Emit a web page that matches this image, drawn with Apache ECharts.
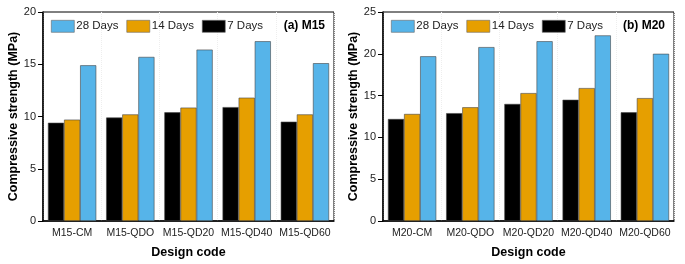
<!DOCTYPE html>
<html>
<head>
<meta charset="utf-8">
<script src="https://cdn.jsdelivr.net/npm/echarts@6/dist/echarts.min.js"></script>
<style>
    html, body { margin: 0; padding: 0; background: #fff; }
    #chart { width: 685px; height: 264px; }
</style>
</head>
<body>
<div id="chart"></div>
<script>
    // 类别
    const m15Codes = ['M15-CM', 'M15-QDO', 'M15-QD20', 'M15-QD40', 'M15-QD60']
    const m20Codes = ['M20-CM', 'M20-QDO', 'M20-QD20', 'M20-QD40', 'M20-QD60']
    const seriesNames = ['7 Days', '14 Days', '28 Days']
    const legendOrder = ['28 Days', '14 Days', '7 Days']

    // M15 强度
    const m15Day7 = [9.4, 9.9, 10.4, 10.9, 9.5]
    const m15Day14 = [9.7, 10.2, 10.85, 11.8, 10.2]
    const m15Day28 = [14.9, 15.7, 16.4, 17.2, 15.1]

    // M20 强度
    const m20Day7 = [12.2, 12.9, 14.0, 14.5, 13.0]
    const m20Day14 = [12.8, 13.6, 15.3, 15.9, 14.7]
    const m20Day28 = [19.7, 20.8, 21.5, 22.2, 20.0]

    const colors = ['#000000', '#E69F00', '#56B4E9']
    const font = 'Liberation Sans, Arial, sans-serif'

    function xAxisOf (idx, codes) {
        return {
            type: 'category',
            gridIndex: idx,
            data: codes,
            name: 'Design code',
            nameLocation: 'middle',
            nameGap: 25,
            nameTextStyle: { fontFamily: font, fontSize: 12.5, fontWeight: 'bold', color: '#000' },
            axisLine: { lineStyle: { color: '#000', width: 1.5 } },
            axisTick: { length: 4, lineStyle: { color: '#000' } },
            axisLabel: { fontFamily: font, fontSize: 10.5, color: '#222', margin: 7, interval: 0, hideOverlap: false },
            splitLine: { show: true, lineStyle: { color: '#eee', type: 'dotted' } }
        }
    }

    function yAxisOf (idx, max) {
        return {
            type: 'value',
            gridIndex: idx,
            min: 0,
            max: max,
            interval: 5,
            name: 'Compressive strength (MPa)',
            nameLocation: 'middle',
            nameGap: 21,
            nameTextStyle: { fontFamily: font, fontSize: 12.5, fontWeight: 'bold', color: '#000' },
            axisLine: { show: true, lineStyle: { color: '#000', width: 1.5 } },
            axisTick: { show: true, inside: false, length: 5, lineStyle: { color: '#000' } },
            axisLabel: { fontFamily: font, fontSize: 11, color: '#222', margin: 7 },
            splitLine: { show: false }
        }
    }

    function barsOf (idx, lists) {
        return lists.map((vals, i) => ({
            name: seriesNames[i],
            type: 'bar',
            xAxisIndex: idx,
            yAxisIndex: idx,
            data: vals,
            barGap: '0%',
            barCategoryGap: '17%',
            itemStyle: { color: colors[i], borderColor: '#444', borderWidth: 0.6 }
        }))
    }

    function legendOf (left) {
        return {
            data: legendOrder,
            left: left,
            top: 15,
            icon: 'rect',
            itemWidth: 23,
            itemHeight: 12,
            itemGap: 8,
            itemStyle: { borderColor: '#666', borderWidth: 0.6 },
            textStyle: { fontFamily: font, fontSize: 11.5, color: '#222', padding: [0, 0, 0, -3] }
        }
    }

    const chart = echarts.init(document.getElementById('chart'))
    chart.setOption({
        animation: false,
        grid: [
            { left: 43, right: 351, top: 12, bottom: 39, show: true, borderColor: '#000', borderWidth: 1 },
            { left: 383, right: 11, top: 12, bottom: 39, show: true, borderColor: '#000', borderWidth: 1 }
        ],
        title: [
            { text: '(a) M15', right: 355, top: 15, textStyle: { fontFamily: font, fontSize: 12, fontWeight: 'bold', color: '#000' } },
            { text: '(b) M20', right: 15, top: 15, textStyle: { fontFamily: font, fontSize: 12, fontWeight: 'bold', color: '#000' } }
        ],
        legend: [
            legendOf(46),
            legendOf(386)
        ],
        xAxis: [xAxisOf(0, m15Codes), xAxisOf(1, m20Codes)],
        yAxis: [yAxisOf(0, 20), yAxisOf(1, 25)],
        series: barsOf(0, [m15Day7, m15Day14, m15Day28]).concat(barsOf(1, [m20Day7, m20Day14, m20Day28]))
    })
</script>
</body>
</html>
